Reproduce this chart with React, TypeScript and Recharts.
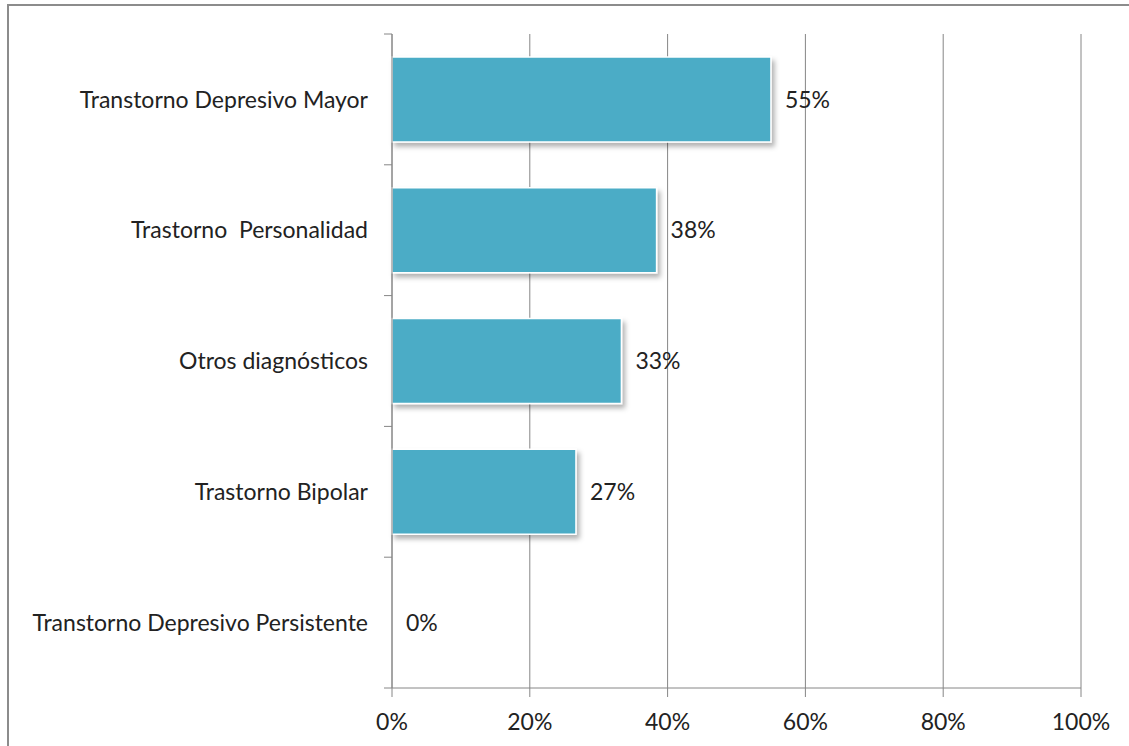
import { Bar, BarChart, CartesianGrid, LabelList, Rectangle, XAxis, YAxis } from 'recharts'

const categories = [
  'Transtorno Depresivo Mayor',
  'Trastorno  Personalidad',
  'Otros diagnósticos',
  'Trastorno Bipolar',
  'Transtorno Depresivo Persistente',
]
const values = [55, 38.4, 33.3, 26.7, 0]
const xTicks = [0, 20, 40, 60, 80, 100]

const data = categories.map((name, i) => ({ name, value: values[i] }))

const font = 'Lato, "Open Sans", sans-serif'
const grey = '#868686'
const textStyle = { fill: '#222222', fontSize: 23, fontFamily: font }
const labelGap = 24
const markLen = 8

const ShadowBar = (props: any) => {
  if (!props.width) return null
  return <Rectangle {...props} fill="#4BACC6" stroke="#ffffff" strokeWidth={1.5} filter="url(#barShadow)" />
}

// category label plus the tick marks that sit between the bands
const CatTick = (props: any) => {
  const { x, y, payload, index } = props
  const half = payload.offset || 0
  const ax = x + labelGap
  return (
    <g>
      <line x1={ax - markLen} x2={ax} y1={y - half} y2={y - half} stroke={grey} />
      {index === categories.length - 1 && (
        <line x1={ax - markLen} x2={ax} y1={y + half} y2={y + half} stroke={grey} />
      )}
      <text x={x} y={y} dy="0.355em" textAnchor="end" xmlSpace="preserve" style={{ whiteSpace: 'pre' }} {...textStyle}>
        {payload.value}
      </text>
    </g>
  )
}

export default function App() {
  return (
    <div style={{ position: 'absolute', left: 0, top: 0, width: 1129, height: 746, overflow: 'hidden', background: '#fff' }}>
      <div style={{ position: 'absolute', left: 7, top: 4, width: 1300, height: 900, border: '2px solid #8c8c8c' }} />
      <div style={{ position: 'absolute', left: 0, top: 0 }}>
        <BarChart
          width={1129}
          height={746}
          data={data}
          layout="vertical"
          margin={{ top: 34, right: 48, bottom: 18, left: 0 }}
          barCategoryGap="17.5%"
        >
          <defs>
            <filter id="barShadow" x="-5%" y="-10%" width="115%" height="130%">
              <feDropShadow dx={3} dy={4} stdDeviation={2.5} floodColor="#000" floodOpacity={0.3} />
            </filter>
          </defs>
          <CartesianGrid horizontal={false} stroke={grey} strokeWidth={1} />
          <XAxis
            type="number"
            domain={[0, 100]}
            ticks={xTicks}
            tickFormatter={(v: number) => `${v}%`}
            stroke={grey}
            tickSize={9}
            tickMargin={17}
            height={40}
            tick={textStyle}
          />
          <YAxis
            type="category"
            dataKey="name"
            width={392}
            stroke={grey}
            tickLine={false}
            tickSize={0}
            tickMargin={labelGap}
            tick={<CatTick />}
          />
          <Bar dataKey="value" shape={ShadowBar} isAnimationActive={false}>
            <LabelList
              dataKey="value"
              position="right"
              offset={14}
              formatter={(v: any) => `${Math.round(Number(v))}%`}
              style={textStyle}
            />
          </Bar>
        </BarChart>
      </div>
    </div>
  )
}
